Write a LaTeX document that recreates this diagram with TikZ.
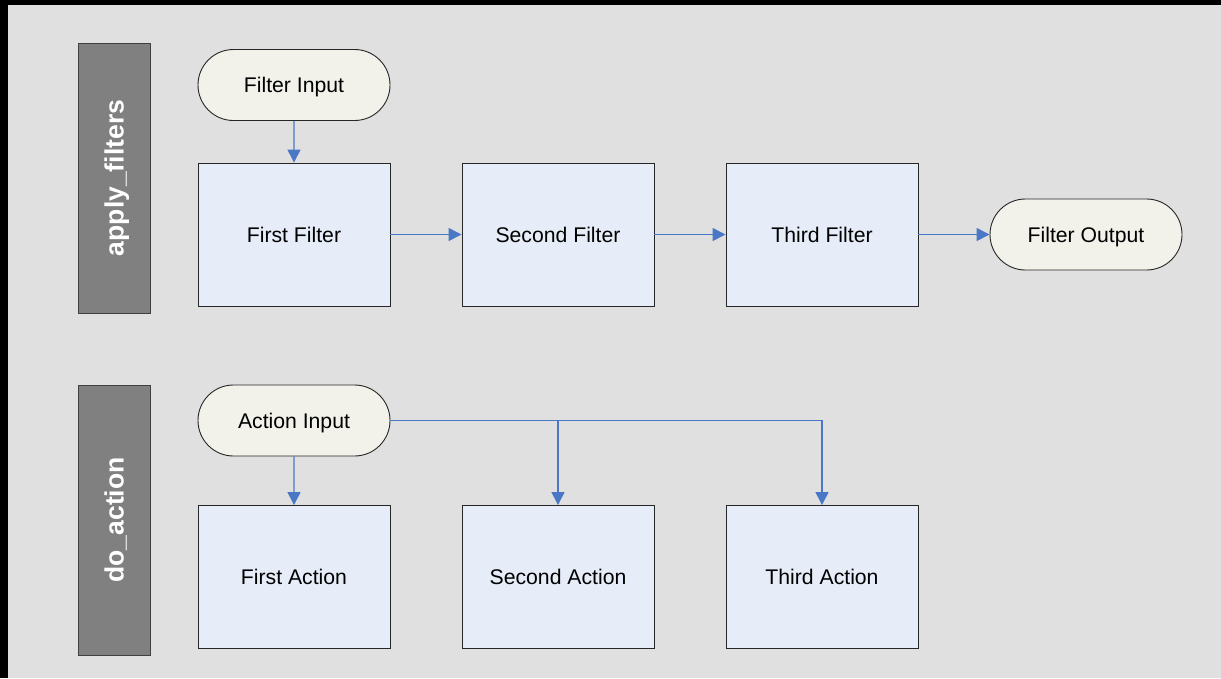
\documentclass[tikz,border=0pt]{standalone}
\usepackage{fontspec}
\setmainfont{Liberation Sans}
\usetikzlibrary{arrows.meta,shapes.misc}
\definecolor{bg}{HTML}{E0E0E0}
\definecolor{lanefill}{HTML}{808080}
\definecolor{laneline}{HTML}{404040}
\definecolor{termfill}{HTML}{F2F2EA}
\definecolor{boxfill}{HTML}{E6EDF8}
\definecolor{arrowc}{HTML}{4A78C6}
\begin{document}
\begin{tikzpicture}[x=1pt,y=-1pt,
  lane/.style={draw=laneline,line width=1pt,fill=lanefill,minimum width=72pt,minimum height=270pt,inner sep=0pt},
  lanetext/.style={text=white,font=\bfseries\fontsize{26.5}{30}\selectfont,rotate=90,text height=19pt,text depth=0pt},
  term/.style={draw=black!85,line width=0.9pt,fill=termfill,rounded rectangle,minimum width=192pt,minimum height=71pt,inner sep=0pt,font=\fontsize{21.2}{24}\selectfont,text height=15pt,text depth=0pt},
  proc/.style={draw=black!85,line width=0.9pt,fill=boxfill,minimum width=192pt,minimum height=143pt,inner sep=0pt,font=\fontsize{21.2}{24}\selectfont,text height=15pt,text depth=0pt},
  conn/.style={draw=arrowc,line width=1.3pt,-{Triangle[length=13pt,width=13pt]}},
  line/.style={draw=arrowc,line width=1.3pt}]
\fill[black] (0,0) rectangle (1221,678);
\fill[bg] (8,5) rectangle (1221,678);
\useasboundingbox (0,0) rectangle (1221,678);

\node[lane] (lane1) at (114,178) {};
\node[lanetext] (lt1) at (lane1.center) {apply\_filters};
\node[lane] (lane2) at (114,520) {};
\node[lanetext] (lt2) at (lane2.center) {do\_action};

\node[term] (fin) at (294,85) {Filter Input};
\node[proc] (f1) at (294,234.5) {First Filter};
\node[proc] (f2) at (558,234.5) {Second Filter};
\node[proc] (f3) at (822,234.5) {Third Filter};
\node[term] (fout) at (1086,234.5) {Filter Output};

\node[term] (ain) at (294,420.5) {Action Input};
\node[proc] (a1) at (294,577) {First Action};
\node[proc] (a2) at (558,577) {Second Action};
\node[proc] (a3) at (822,577) {Third Action};

\draw[conn] (fin) -- (f1);
\draw[conn] (f1) -- (f2);
\draw[conn] (f2) -- (f3);
\draw[conn] (f3) -- (fout);

\draw[conn] (ain) -- (a1);
\draw[line] (ain.east) -- (a2.north |- ain.east);
\draw[conn] (ain.east) -| (a3.north);
\draw[conn] (a2.north |- ain.east) -- (a2.north);
\end{tikzpicture}
\end{document}
